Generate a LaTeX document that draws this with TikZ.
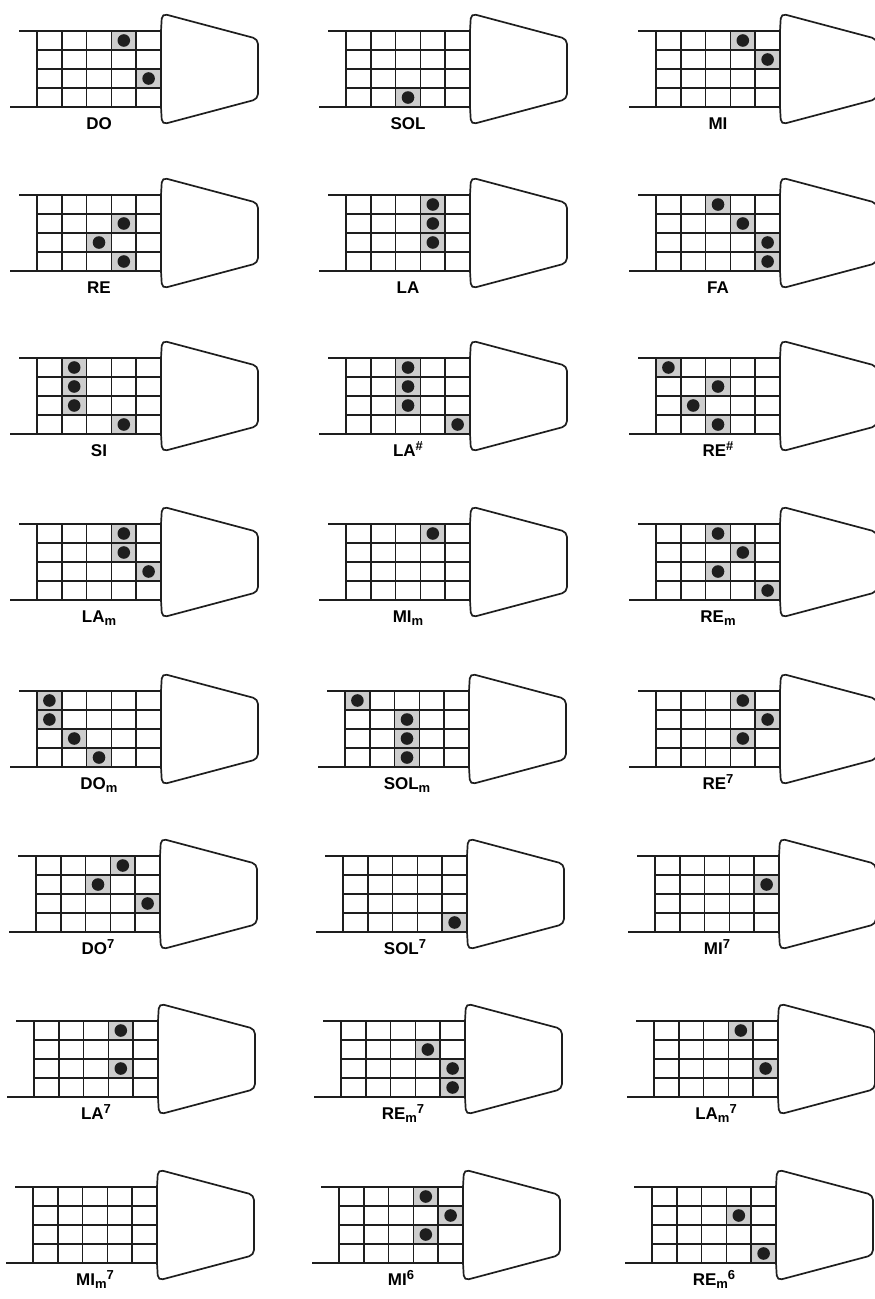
\documentclass[tikz,border=0pt]{standalone}
\usepackage{fontspec}
\setmainfont{Liberation Sans}
\usepackage{tikz}
\usetikzlibrary{arrows.meta,calc}

\definecolor{InkBlack}{RGB}{30,30,30}
\definecolor{CellGray}{RGB}{205,205,205}

\tikzset{
	board/.style={line width=1.5pt, draw=InkBlack},
	edge/.style={line width=1.9pt, draw=InkBlack},
	head/.style={line width=1.7pt, draw=InkBlack, rounded corners=5pt},
	fingercell/.style={fill=CellGray},
	finger/.style={fill=InkBlack},
	chordname/.style={anchor=base, font=\fontsize{17}{20}\selectfont\bfseries, inner sep=0pt}
}

% sub- and superscripts of the chord names
\newcommand{\chsub}[1]{\raisebox{-0.42ex}{\fontsize{13}{14}\selectfont #1}}
\newcommand{\chsup}[1]{\raisebox{0.62ex}{\fontsize{13}{14}\selectfont #1}}

% one chord: top-left corner of the grid, name, fingers (column/row)
\newcommand{\chordgrid}[4]{%
	\begin{scope}[shift={(#1,#2)}]
		\foreach \c/\r in {#4} {\ifnum\c>0 \fill[fingercell] ({(\c-1)*24.8},{(\r-1)*19}) rectangle ++(24.8,19);\fi}
		\draw[edge] (-18,0) -- (124,0);
		\draw[edge] (-27,76) -- (124,76);
		\foreach \k in {1,2,3} \draw[board] (0,\k*19) -- (124,\k*19);
		\foreach \k in {0,...,5} \draw[board] (\k*24.8,0) -- (\k*24.8,76);
		\draw[head] (124,0) -- (125,-17.5) -- (221,8) -- (221,68) -- (125,93.5) -- (124,76);
		\foreach \c/\r in {#4} {\ifnum\c>0 \fill[finger] ({(\c-0.5)*24.8},{(\r-0.5)*19}) circle (6.3);\fi}
		\node[chordname] (name) at (62,98) {#3};
	\end{scope}}

\begin{document}
\begin{tikzpicture}[x=1pt, y=-1pt]
	\useasboundingbox[fill=white] (0,0) rectangle (875,1299);

	% row 1
	\chordgrid{37}{31}{DO}{4/1,5/3}
	\chordgrid{346}{31}{SOL}{3/4}
	\chordgrid{656}{31}{MI}{4/1,5/2}
	% row 2
	\chordgrid{37}{195}{RE}{4/2,3/3,4/4}
	\chordgrid{346}{195}{LA}{4/1,4/2,4/3}
	\chordgrid{656}{195}{FA}{3/1,4/2,5/3,5/4}
	% row 3
	\chordgrid{37}{358}{SI}{2/1,2/2,2/3,4/4}
	\chordgrid{346}{358}{LA\chsup{\#}}{3/1,3/2,3/3,5/4}
	\chordgrid{656}{358}{RE\chsup{\#}}{1/1,3/2,2/3,3/4}
	% row 4
	\chordgrid{37}{524}{LA\chsub{m}}{4/1,4/2,5/3}
	\chordgrid{346}{524}{MI\chsub{m}}{4/1}
	\chordgrid{656}{524}{RE\chsub{m}}{3/1,4/2,3/3,5/4}
	% row 5
	\chordgrid{37}{691}{DO\chsub{m}}{1/1,1/2,2/3,3/4}
	\chordgrid{345}{691}{SOL\chsub{m}}{1/1,3/2,3/3,3/4}
	\chordgrid{656}{691}{RE\chsup{7}}{4/1,5/2,4/3}
	% row 6
	\chordgrid{36}{856}{DO\chsup{7}}{4/1,3/2,5/3}
	\chordgrid{343}{856}{SOL\chsup{7}}{5/4}
	\chordgrid{655}{856}{MI\chsup{7}}{5/2}
	% row 7
	\chordgrid{34}{1021}{LA\chsup{7}}{4/1,4/3}
	\chordgrid{341}{1021}{RE\chsub{m}\chsup{7}}{4/2,5/3,5/4}
	\chordgrid{654}{1021}{LA\chsub{m}\chsup{7}}{4/1,5/3}
	% row 8
	\chordgrid{33}{1187}{MI\chsub{m}\chsup{7}}{0/0}
	\chordgrid{339}{1187}{MI\chsup{6}}{4/1,5/2,4/3}
	\chordgrid{652}{1187}{RE\chsub{m}\chsup{6}}{4/2,5/4}
\end{tikzpicture}
\end{document}
